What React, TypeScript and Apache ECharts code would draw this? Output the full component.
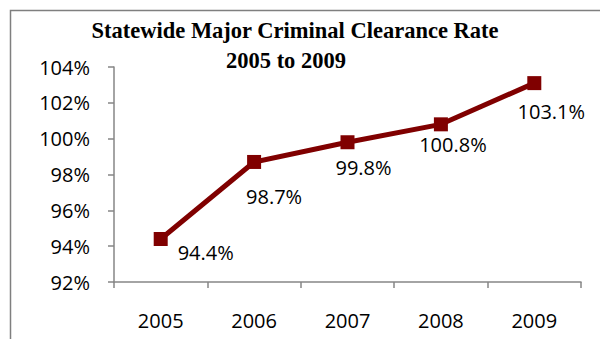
import React, { useEffect, useRef } from "react";
import * as echarts from "echarts";

const categories = ["2005", "2006", "2007", "2008", "2009"];
const values = [94.4, 98.7, 99.8, 100.8, 103.1];
const labelOffsets: [number, number][] = [
  [45, 13],
  [20, 35],
  [16, 25],
  [12, 20],
  [17, 28],
];
const titleLine1 = "Statewide Major Criminal Clearance Rate";
const titleLine2 = "2005 to 2009";

export default function App() {
  const ref = useRef<HTMLDivElement>(null);
  useEffect(() => {
    if (!ref.current) return;
    const chart = echarts.init(ref.current, undefined, { renderer: "svg" });
    const font = "'Open Sans', 'Liberation Sans', sans-serif";
    const titleStyle = { fontFamily: "'Liberation Serif', serif", fontWeight: "bold", fontSize: 22.5, color: "#000" };
    chart.setOption({
      animation: false,
      backgroundColor: "#fff",
      title: [
        { text: titleLine1, left: 290, top: 14, textAlign: "center", textStyle: titleStyle },
        { text: titleLine2, left: 281, top: 44, textAlign: "center", textStyle: titleStyle },
      ],
      graphic: [
        {
          type: "rect",
          shape: { x: 10.5, y: 10.5, width: 800, height: 800 },
          style: { fill: "none", stroke: "#7f7f7f", lineWidth: 1.5 },
          silent: true,
        },
      ],
      grid: { left: 114, right: 19, top: 67, bottom: 57 },
      xAxis: {
        type: "category",
        data: categories,
        boundaryGap: true,
        axisLine: { lineStyle: { color: "#868686", width: 1.5 } },
        axisTick: { show: true, length: 6, lineStyle: { color: "#868686", width: 1.5 } },
        axisLabel: { fontFamily: font, fontSize: 20, color: "#000", margin: 28 },
      },
      yAxis: {
        type: "value",
        min: 92,
        max: 104,
        interval: 2,
        axisLine: { show: true, lineStyle: { color: "#868686", width: 1.5 } },
        axisTick: { show: true, length: 6, lineStyle: { color: "#868686", width: 1.5 } },
        splitLine: { show: false },
        axisLabel: { fontFamily: font, fontSize: 20, color: "#000", margin: 24, formatter: (v: number) => v + "%" },
      },
      series: [
        {
          type: "line",
          data: values.map((v, i) => ({
            value: v,
            label: { offset: labelOffsets[i] },
          })),
          symbol: "rect",
          symbolSize: 14,
          lineStyle: { color: "#800000", width: 5 },
          itemStyle: { color: "#800000" },
          label: {
            show: true,
            position: "inside",
            align: "center",
            verticalAlign: "middle",
            fontFamily: font,
            fontSize: 20,
            color: "#000",
            formatter: (p: any) => p.value.toFixed(1) + "%",
          },
        },
      ],
    });
    return () => chart.dispose();
  }, []);
  return <div ref={ref} style={{ position: "absolute", left: 0, top: 0, width: 600, height: 339 }} />;
}
